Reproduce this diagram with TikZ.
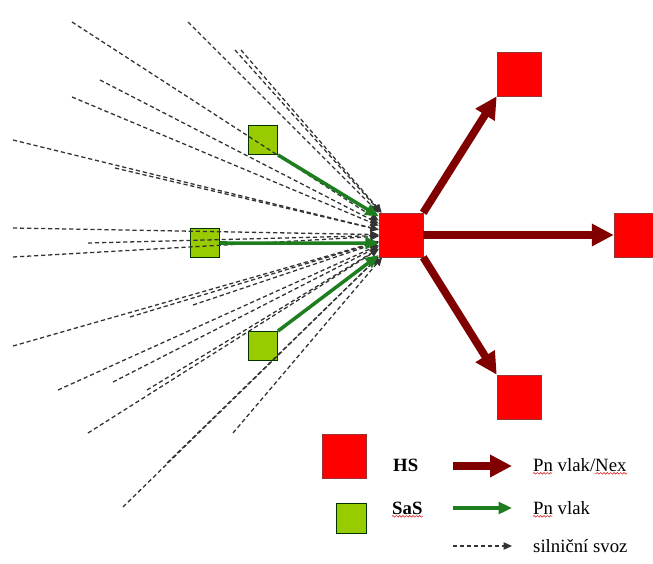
\documentclass[tikz,border=0pt]{standalone}
\usepackage{fontspec}
\setmainfont{Liberation Serif}
\usetikzlibrary{arrows.meta,decorations.pathmorphing}

\definecolor{nexRed}{RGB}{128,0,0}
\definecolor{hsRed}{RGB}{255,0,0}
\definecolor{pnGreen}{RGB}{30,125,30}
\definecolor{sasGreen}{RGB}{153,204,0}

\begin{document}
\begin{tikzpicture}[
    x=0.03cm, y=-0.03cm,
    hsStyle/.style={draw=nexRed!80, fill=hsRed, minimum size=1.32cm, inner sep=0pt},
    sasStyle/.style={draw=black!80!green, fill=sasGreen, minimum size=0.87cm, inner sep=0pt, line width=0.8pt},
    nexArrowStyle/.style={draw=nexRed, line width=6.6pt, -{Triangle[length=6.6mm, width=6.4mm]}},
    pnArrowStyle/.style={draw=pnGreen, line width=3pt, -{Triangle[length=4mm, width=3.5mm]}},
    svozArrowStyle/.style={black!80, line width=1.1pt, dash pattern=on 3.6pt off 2.4pt, -{Triangle[length=2.5mm, width=2.2mm]}},
    labelStyle/.style={font=\fontsize{16}{19}\selectfont, anchor=base west, inner sep=0pt},
    boldLabelStyle/.style={labelStyle, font=\fontsize{16}{19}\selectfont\bfseries},
    wavyStyle/.style={red!85!black, line width=0.4pt, decorate, decoration={snake, segment length=1mm, amplitude=0.25mm}}
]
    \clip (0,0) rectangle (653,563);

    % --- stanice ---
    \node[hsStyle] (hs) at (401,235) {};
    \node[hsStyle] (hsUp) at (519,74) {};
    \node[hsStyle] (hsRight) at (636,235) {};
    \node[hsStyle] (hsDown) at (519,397) {};

    \node[sasStyle] (sasUp) at (263,140) {};
    \node[sasStyle] (sasMid) at (205,243) {};
    \node[sasStyle] (sasDown) at (263,346) {};

    % silniční svoz
    \foreach \sx/\sy [count=\i] in {72/22, 188/22, 235/50, 241/50, 100/80, 72/97,
        13/140, 115/168, 13/228, 88/243, 13/257, 13/346, 130/317, 193/305,
        58/390, 113/382, 147/390, 88/433, 123/507, 167/463, 233/433} {
        \coordinate (svoz\i) at (\sx,\sy);
        \draw[svozArrowStyle] (svoz\i) -- (hs);
    }

    % Pn vlak
    \draw[pnArrowStyle] (sasUp.south east) -- (hs.140);
    \draw[pnArrowStyle] (sasMid.east) -- (hs.200);
    \draw[pnArrowStyle] (sasDown.north east) -- (hs.222);

    % Pn vlak/Nex
    \draw[nexArrowStyle] (hs.north east) -- (hsUp.south west);
    \draw[nexArrowStyle] (hs.east) -- (hsRight.west);
    \draw[nexArrowStyle] (hs.south east) -- (hsDown.north west);

    % --- legenda ---
    \node[hsStyle] (legHs) at (344,456) {};
    \node[sasStyle, minimum size=0.9cm] (legSas) at (351,518) {};
    \node[boldLabelStyle] (tHs) at (393,471) {HS};
    \node[boldLabelStyle] (tSas) at (392,514) {SaS};

    \coordinate (legNexA) at (453,466);
    \coordinate (legNexB) at (512,466);
    \coordinate (legPnA) at (453,508);
    \coordinate (legPnB) at (512,508);
    \coordinate (legSvozA) at (453,546);
    \coordinate (legSvozB) at (512,546);
    \draw[nexArrowStyle] (legNexA) -- (legNexB);
    \draw[pnArrowStyle] (legPnA) -- (legPnB);
    \draw[svozArrowStyle] (legSvozA) -- (legSvozB);

    \node[labelStyle] (tNex) at (533,471) {Pn vlak/Nex};
    \node[labelStyle] (tPn) at (533,514) {Pn vlak};
    \node[labelStyle] (tSvoz) at (533,552) {silniční svoz};

    % podtržení
    \draw[wavyStyle] ([yshift=-2pt]tNex.base west) -- ++(19,0);
    \draw[wavyStyle] ([yshift=-2pt]tNex.base east) -- ++(-32,0);
    \draw[wavyStyle] ([yshift=-2pt]tSas.base west) -- ([yshift=-2pt]tSas.base east);
    \draw[wavyStyle] ([yshift=-2pt]tPn.base west) -- ++(19,0);
\end{tikzpicture}
\end{document}
